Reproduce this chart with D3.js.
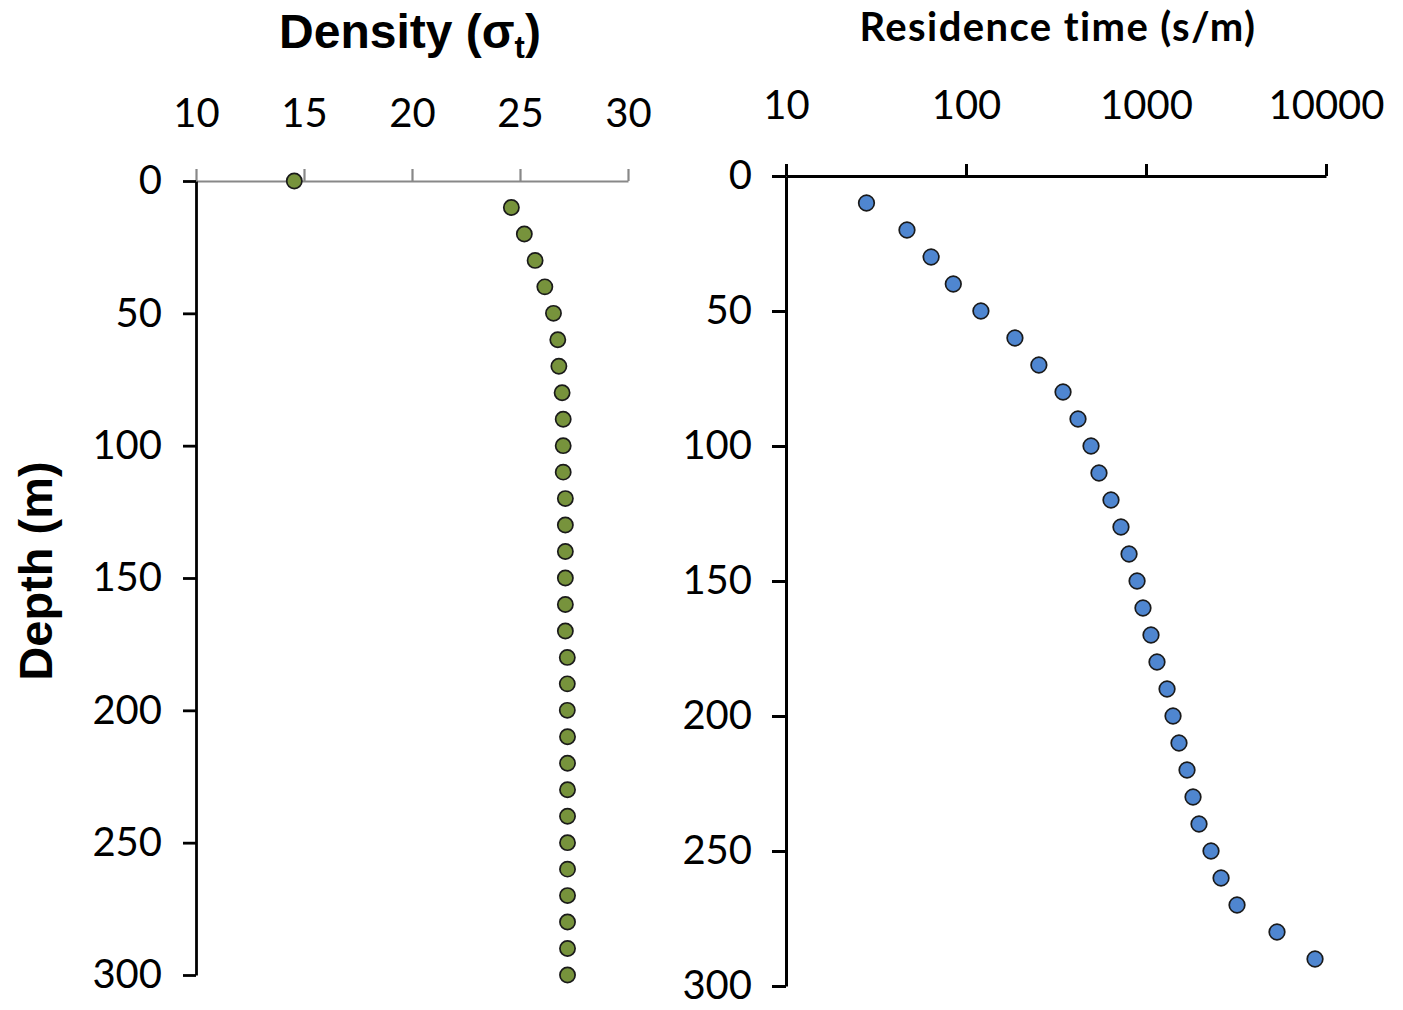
<!DOCTYPE html>
<html>
<head>
<meta charset="utf-8">
<script src="https://cdn.jsdelivr.net/npm/d3@7"></script>
<style>
  html, body { margin: 0; padding: 0; background: #fff; }
  svg { display: block; }
  .tick text { font-family: Lato, "Open Sans", sans-serif; fill: #000; }
</style>
</head>
<body>
<svg id="chart" width="1403" height="1010"></svg>
<script>
// ---- Data ----
const densityDepths = [0,10,20,30,40,50,60,70,80,90,100,110,120,130,140,150,160,170,180,190,200,210,220,230,240,250,260,270,280,290,300];
const densityValues = [14.55,24.6,25.2,25.7,26.15,26.55,26.75,26.8,26.95,27.0,27.0,27.0,27.1,27.1,27.1,27.1,27.1,27.1,27.19,27.19,27.19,27.2,27.2,27.2,27.2,27.2,27.2,27.2,27.2,27.2,27.2];

const residenceDepths = [10,20,30,40,50,60,70,80,90,100,110,120,130,140,150,160,170,180,190,200,210,220,230,240,250,260,270,280,290];
const residenceValues = [28,47,64,85,121,187,254,346,419,495,548,639,726,805,892,962,1066,1151,1309,1413,1525,1690,1825,1970,2297,2612,3204,5343,8690];

const densityTicks = [10,15,20,25,30];
const residenceTicks = [10,100,1000,10000];
const depthTicks = [0,50,100,150,200,250,300];

// ---- Drawing ----
const svg = d3.select("#chart");

// Left panel scales
const xL = d3.scaleLinear().domain([10,30]).range([196,628]);
const yL = d3.scaleLinear().domain([0,300]).range([181,975]);

// Right panel scales
const xR = d3.scaleLog().domain([10,10000]).range([786,1326]);
const yR = d3.scaleLinear().domain([0,300]).range([176,986]);

// Left x axis (gray, top)
const gxL = svg.append("g").attr("transform", `translate(0,${yL(0)})`)
  .call(d3.axisTop(xL).tickValues(densityTicks).tickSizeInner(12).tickSizeOuter(0).tickPadding(42).tickFormat(d3.format("d")));
gxL.select(".domain").attr("stroke", "#888").attr("stroke-width", 2.2);
gxL.selectAll(".tick line").attr("stroke", "#888").attr("stroke-width", 2.2);
gxL.selectAll(".tick text").attr("font-size", 40);

// Left y axis
const gyL = svg.append("g").attr("transform", `translate(${xL(10)},0)`)
  .call(d3.axisLeft(yL).tickValues(depthTicks).tickSizeInner(13).tickSizeOuter(0).tickPadding(21));
gyL.select(".domain").attr("stroke", "#000").attr("stroke-width", 2.8);
gyL.selectAll(".tick line").attr("stroke", "#000").attr("stroke-width", 2.8);
gyL.selectAll(".tick text").attr("font-size", 40);

// Right x axis (log, top)
const gxR = svg.append("g").attr("transform", `translate(0,${yR(0)})`)
  .call(d3.axisTop(xR).tickValues(residenceTicks).tickSizeInner(12).tickSizeOuter(0).tickPadding(45).tickFormat(d3.format("d")));
gxR.select(".domain").attr("stroke", "#000").attr("stroke-width", 3);
gxR.selectAll(".tick line").attr("stroke", "#000").attr("stroke-width", 3);
gxR.selectAll(".tick text").attr("font-size", 40);

// Right y axis
const gyR = svg.append("g").attr("transform", `translate(${xR(10)},0)`)
  .call(d3.axisLeft(yR).tickValues(depthTicks).tickSizeInner(14).tickSizeOuter(0).tickPadding(20));
gyR.select(".domain").attr("stroke", "#000").attr("stroke-width", 3);
gyR.selectAll(".tick line").attr("stroke", "#000").attr("stroke-width", 3);
gyR.selectAll(".tick text").attr("font-size", 40);

// Points
const densityData = densityDepths.map((d,i) => ({depth: d, v: densityValues[i]}));
svg.append("g").selectAll("circle").data(densityData).join("circle")
  .attr("cx", d => xL(d.v)).attr("cy", d => yL(d.depth))
  .attr("r", 7.6)
  .attr("fill", "#77933C").attr("stroke", "#1a1a1a").attr("stroke-width", 1.7);

const residenceData = residenceDepths.map((d,i) => ({depth: d, v: residenceValues[i]}));
svg.append("g").selectAll("circle").data(residenceData).join("circle")
  .attr("cx", d => xR(d.v)).attr("cy", d => yR(d.depth))
  .attr("r", 7.8)
  .attr("fill", "#4F86D0").attr("stroke", "#1a1a1a").attr("stroke-width", 1.7);

// Titles
const t1 = svg.append("text").attr("x", 410).attr("y", 48).attr("text-anchor", "middle")
  .attr("font-family", "'Liberation Sans', Arial, sans-serif").attr("font-weight", "bold").attr("font-size", 48);
t1.append("tspan").text("Density (σ");
t1.append("tspan").attr("font-size", 31).attr("dy", 10).text("t");
t1.append("tspan").attr("dy", -10).text(")");

svg.append("text").attr("x", 1058).attr("y", 41).attr("text-anchor", "middle")
  .attr("font-family", "Lato, 'Open Sans', sans-serif").attr("font-weight", "bold").attr("font-size", 40)
  .attr("letter-spacing", 1.4)
  .text("Residence time (s/m)");

svg.append("text").attr("transform", "translate(52,571) rotate(-90)").attr("text-anchor", "middle")
  .attr("font-family", "'Liberation Sans', Arial, sans-serif").attr("font-weight", "bold").attr("font-size", 47)
  .text("Depth (m)");
</script>
</body>
</html>
